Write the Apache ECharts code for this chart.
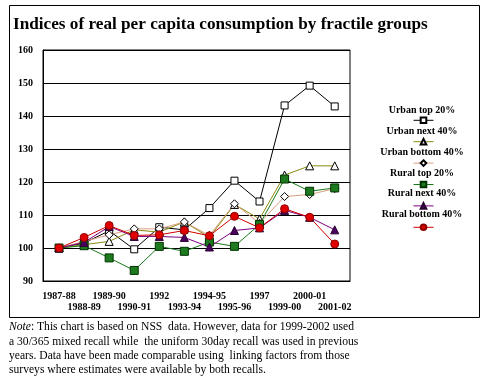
<!DOCTYPE html>
<html><head><meta charset="utf-8">
<script src="https://cdn.jsdelivr.net/npm/echarts@6/dist/echarts.min.js"></script>
<style>html,body{margin:0;padding:0;background:#fff}#c{width:488px;height:383px}</style>
</head><body><div id="c"></div>
<script>
var categories = ['1987-88','1988-89','1989-90','1990-91','1992','1993-94','1994-95','1995-96','1997','1999-00','2000-01','2001-02'];
var urbanTop20    = [100, 101.5, 105.2, 99.6, 106.3, 105.5, 112.1, 120.4, 114.1, 143.2, 149.2, 142.9];
var urbanNext40   = [100, 101.0, 102.0, 105.5, 104.8, 107.9, 103.2, 113.2, 108.8, 122.1, 124.9, 124.9];
var urbanBottom40 = [100, 102.0, 104.0, 105.8, 105.8, 107.9, 103.8, 113.4, 107.5, 115.6, 116.2, 118.0];
var ruralTop20    = [100, 100.7, 97.0, 93.2, 100.5, 99.0, 101.8, 100.5, 107.1, 120.9, 117.2, 118.2];
var ruralNext40   = [100, 101.7, 106.5, 103.5, 103.5, 103.2, 100.3, 105.3, 106.1, 111.4, 109.3, 105.5];
var ruralBottom40 = [100, 103.2, 106.8, 103.8, 104.0, 105.3, 103.7, 109.6, 106.1, 111.9, 109.3, 101.2];
var seriesNames = ['Urban top 20%','Urban next 40%','Urban bottom 40%','Rural top 20%','Rural next 40%','Rural bottom 40%'];
var yTicks = [90,100,110,120,130,140,150,160];

var F = 'Liberation Serif';
var seriesData = [urbanTop20, urbanNext40, urbanBottom40, ruralTop20, ruralNext40, ruralBottom40];
var styles = [
  {line:'#000000', symbol:'rect', size:7, fill:'#ffffff', border:'#000000'},
  {line:'#8a8a10', symbol:'triangle', size:8, fill:'#ffffff', border:'#000000'},
  {line:'#d8a080', symbol:'diamond', size:8, fill:'#ffffff', border:'#000000'},
  {line:'#1a7a1a', symbol:'rect', size:8, fill:'#1e7a1e', border:'#003300'},
  {line:'#800080', symbol:'triangle', size:8, fill:'#4b0060', border:'#2a0030'},
  {line:'#d00000', symbol:'circle', size:8, fill:'#e00000', border:'#900000'}
];
var series = seriesData.map(function(arr, k){
  var s = styles[k];
  return {
    name: seriesNames[k], type:'line', xAxisIndex:0,
    data: arr.map(function(v,i){return [i,v];}),
    symbol: s.symbol, symbolSize: s.size, showSymbol:true,
    lineStyle:{color:s.line, width:1},
    itemStyle:{color:s.fill, borderColor:s.border, borderWidth:1},
    emphasis:{disabled:true}, animation:false
  };
});

var idx = categories.map(function(c,i){return i;});
var evenIdx = idx.filter(function(i){return i%2===0;});
var oddIdx = idx.filter(function(i){return i%2===1;});

var legendTextY = [110.7, 131.7, 152.7, 173.3, 193.3, 214.3];
var graphics = [
  {type:'rect', shape:{x:9.5, y:5.5, width:470, height:312}, style:{fill:null, stroke:'#000', lineWidth:1}, silent:true},
  {type:'text', x:9, y:320, silent:true, style:{
    text:'{i|Note}: This chart is based on NSS  data. However, data for 1999-2002 used\na 30/365 mixed recall while  the uniform 30day recall was used in previous\nyears. Data have been made comparable using  linking factors from those\nsurveys where estimates were available by both recalls.',
    font:'11.6px "Liberation Serif"', fill:'#000', lineHeight:14.4,
    rich:{i:{fontStyle:'italic', fontFamily:F, fontSize:11.6, lineHeight:14.4}}
  }}
];
seriesNames.forEach(function(n,k){
  graphics.push({type:'text', x:422, y:legendTextY[k], silent:true, style:{
    text:n, font:'bold 10px "Liberation Serif"', fill:'#000', align:'center', verticalAlign:'middle'}});
});

function xAx(vals, offset, showLine){
  return {type:'value', min:-0.64, max:11.61, position:'bottom', offset:offset,
    axisLine:{show:showLine, onZero:false, lineStyle:{color:'#000'}}, axisTick:{show:false}, splitLine:{show:false},
    axisLabel:{customValues:vals, showMinLabel:true, showMaxLabel:true,
      margin:10, fontFamily:F, fontWeight:'bold', fontSize:10, color:'#000',
      formatter:function(v){return categories[Math.round(v)];}}};
}

var chart = echarts.init(document.getElementById('c'), null, {renderer:'canvas'});
chart.setOption({
  backgroundColor:'#fff',
  animation:false,
  title:{text:'Indices of real per capita consumption by fractile groups', left:13, top:16, padding:0,
    textStyle:{fontFamily:F, fontWeight:'bold', fontSize:17.2, color:'#000'}},
  grid:{left:43, right:138, top:50, bottom:102, show:true, borderColor:'#000', borderWidth:1},
  legend:{orient:'vertical', left:413, top:116.5, itemWidth:20, itemHeight:7, itemGap:13.8, padding:0,
    formatter:function(){return '';}, textStyle:{fontSize:1}, selectedMode:false,
    lineStyle:{width:1}, data:seriesNames},
  xAxis:[xAx(evenIdx, 0, true), xAx(oddIdx, 11, false)],
  yAxis:{type:'value', min:yTicks[0], max:yTicks[yTicks.length-1], interval:10,
    axisLine:{show:true, onZero:false, lineStyle:{color:'#000'}}, axisTick:{show:false},
    splitLine:{show:true, lineStyle:{color:'#000', width:1}},
    axisLabel:{margin:10, fontFamily:F, fontWeight:'bold', fontSize:10, color:'#000'}},
  series: series,
  graphic: graphics
});
</script></body></html>
